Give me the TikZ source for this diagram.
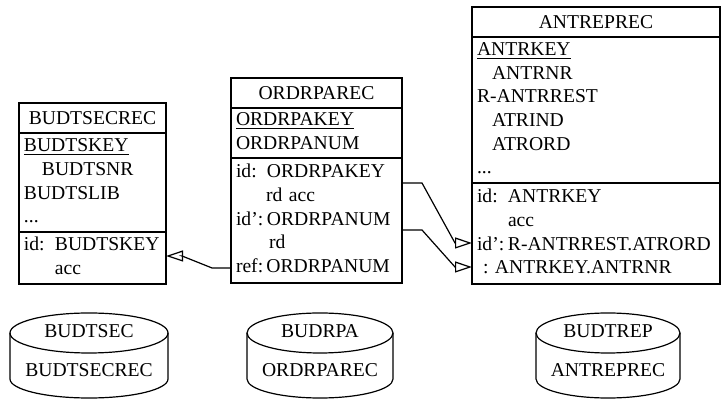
\documentclass[tikz,border=0pt]{standalone}
\usepackage{fontspec}
\setmainfont{Liberation Serif}
\usetikzlibrary{positioning,arrows.meta}

\newcommand{\idcol}[1]{\makebox[15.5pt][l]{#1}}

\begin{document}
\begin{tikzpicture}[
        x=0.5pt, y=-0.5pt,
        every node/.style={font=\fontsize{9.8}{11.85}\selectfont, inner sep=0pt, outer sep=0pt},
        head/.style={draw, line width=0.6pt, minimum width=#1, minimum height=15pt},
        part/.style={draw, line width=0.6pt, text width=#1, align=left, inner xsep=2.5pt},
        disk/.style={line width=0.6pt},
        link/.style={line width=0.6pt, -{Triangle[open, length=8.5pt, width=5.5pt]}}
    ]
    \useasboundingbox (0,0) rectangle (722,399);

    % Record types
    \node[head=73.5pt, anchor=north west] (budthead) at (19,103) {BUDTSECREC};
    \node[part=68.5pt, minimum height=49.5pt, below=0pt of budthead] (budtatt)
        {\strut\underline{BUDTSKEY}\\ \hspace*{9pt}BUDTSNR\\ BUDTSLIB\\ ...\strut};
    \node[part=68.5pt, minimum height=26pt, below=0pt of budtatt] (budtid)
        {\strut\idcol{id:}BUDTSKEY\\ \hspace*{15.5pt}acc\strut};

    \node[head=85.5pt, anchor=north west] (ordrhead) at (231,78) {ORDRPAREC};
    \node[part=80.5pt, minimum height=25pt, below=0pt of ordrhead] (ordratt)
        {\strut\underline{ORDRPAKEY}\\ ORDRPANUM\strut};
    \node[part=80.5pt, minimum height=62.5pt, below=0pt of ordratt] (ordrid)
        {\strut\idcol{id:}ORDRPAKEY\\ \hspace*{15pt}rd acc\\ \idcol{id':}ORDRPANUM\\
         \hspace*{16.5pt}rd\\ ref:\,ORDRPANUM\strut};

    \node[head=124pt, anchor=north west] (antrhead) at (472,7) {ANTREPREC};
    \node[part=119pt, minimum height=73pt, below=0pt of antrhead] (antratt)
        {\strut\underline{ANTRKEY}\\ \hspace*{7.5pt}ANTRNR\\ R-ANTRREST\\ \hspace*{7.5pt}ATRIND\\
         \hspace*{7.5pt}ATRORD\\ ...\strut};
    \node[part=119pt, minimum height=50.5pt, below=0pt of antratt] (antrid)
        {\strut\idcol{id:}ANTRKEY\\ \hspace*{15.5pt}acc\\ \idcol{id':}R-ANTRREST.ATRORD\\
         \hspace*{3pt}:\ ANTRKEY.ANTRNR\strut};

    % References
    \draw[link] ([yshift=7.5pt]ordrid.south west) -- ++(-19,0)
        -- ([xshift=8pt,yshift=1pt]budtid.east) -- ([yshift=1pt]budtid.east);
    \draw[link] ([yshift=-12.5pt]ordrid.north east) -- ++(20,0)
        -- ([xshift=-8.5pt,yshift=-30pt]antrid.north west) -- ([yshift=-30pt]antrid.north west);
    \draw[link] ([yshift=-36pt]ordrid.north east) -- ++(20,0)
        -- ([xshift=-8.5pt,yshift=-42pt]antrid.north west) -- ([yshift=-42pt]antrid.north west);

    % Files
    \draw[disk] (89,333) ellipse [x radius=79, y radius=20];
    \draw[disk] (10,333) -- (10,379) arc[start angle=180, end angle=0, x radius=79, y radius=19] -- (168,333);
    \node (secfile) at (89,331) {BUDTSEC};
    \node (secrec) at (89,370) {BUDTSECREC};

    \draw[disk] (320,333) ellipse [x radius=73, y radius=20];
    \draw[disk] (247,333) -- (247,379) arc[start angle=180, end angle=0, x radius=73, y radius=19] -- (393,333);
    \node (rpafile) at (320,331) {BUDRPA};
    \node (rparec) at (320,370) {ORDRPAREC};

    \draw[disk] (608,333) ellipse [x radius=72, y radius=20];
    \draw[disk] (536,333) -- (536,379) arc[start angle=180, end angle=0, x radius=72, y radius=19] -- (680,333);
    \node (repfile) at (608,331) {BUDTREP};
    \node (reprec) at (608,370) {ANTREPREC};

\end{tikzpicture}
\end{document}
